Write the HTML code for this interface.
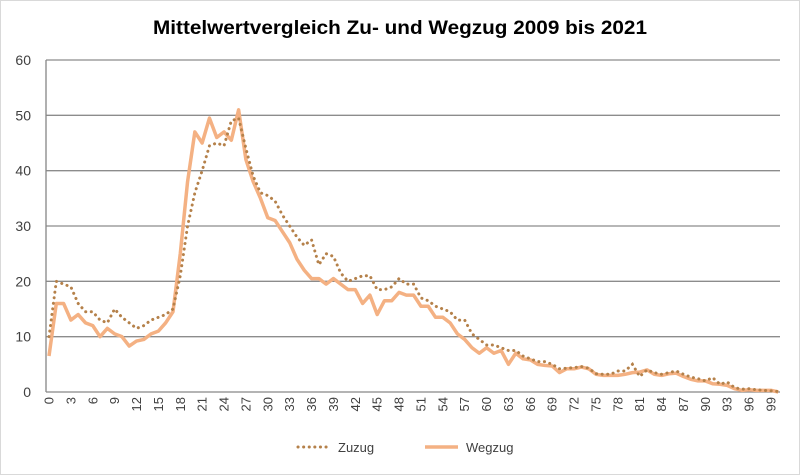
<!DOCTYPE html>
<html><head><meta charset="utf-8"><style>
body{margin:0;background:#fff;font-family:"Liberation Sans",sans-serif}
svg{display:block}
</style></head><body>
<svg width="800" height="475" viewBox="0 0 800 475">
<rect x="0.5" y="0.5" width="799" height="474" fill="#fff" stroke="#d9d9d9"/>
<text x="400" y="34" text-anchor="middle" font-size="19" font-weight="bold" fill="#000" textLength="494" lengthAdjust="spacingAndGlyphs">Mittelwertvergleich Zu- und Wegzug 2009 bis 2021</text>
<g id="grid"></g><g id="xl"></g><g id="yl"></g><g id="series"></g>
<g>
<line x1="298" y1="447" x2="330" y2="447" stroke="#b5814a" stroke-width="3" stroke-dasharray="0.1 5.5" stroke-linecap="round"/>
<text x="338" y="452" font-size="13" fill="#404040">Zuzug</text>
<line x1="425" y1="447" x2="458" y2="447" stroke="#f4b183" stroke-width="3.5"/>
<text x="466" y="452" font-size="13" fill="#404040">Wegzug</text>
</g>
</svg>
<script>
const yTicks=[0,10,20,30,40,50,60];
const wegzug=[6.5,16,16,13,14,12.5,12,10,11.5,10.5,10,8.3,9.2,9.5,10.5,11,12.5,14.5,25,38,47,45,49.5,46,47,45.5,51,42,38,35,31.5,31,29,27,24,22,20.5,20.5,19.5,20.5,19.5,18.5,18.5,16,17.5,14,16.5,16.5,18,17.5,17.5,15.5,15.5,13.5,13.5,12.5,10.5,9.5,8,7,8,7,7.5,5,7,6,5.8,5,4.8,4.7,3.5,4.2,4.2,4.5,4.2,3.2,3,3,3,3.2,3.5,3.6,4,3.2,3,3.3,3.4,2.8,2.3,2,2,1.5,1.4,1.2,0.6,0.3,0.4,0.3,0.3,0.3,0];
const zuzug=[10,20,19.5,19,16,14.5,14.5,13,12.5,15,13.5,12.5,11.5,12,13,13.5,14,15,21,30,36,40,44.5,45,44.5,49,49.5,44,39,36,35.5,34.5,32,30,28,26.5,27.5,23,25,24.5,21.5,20,20.5,21,21,18.5,18.5,19,20.5,19.5,19.5,17,16.5,15.5,15,14.5,13,13,10.5,9.5,8.5,8.5,8,7.5,7.5,6.5,6,5.5,5.5,5,4.2,4.3,4.4,4.6,4.3,3.3,3.2,3.2,3.8,3.8,5,2.8,4,3.5,3.2,3.5,3.8,3.2,2.7,2.4,2,2.6,1.4,1.8,0.8,0.5,0.6,0.4,0.3,0.2,0.1];
const ns="http://www.w3.org/2000/svg";
const X0=46,X1=780,Y0=392,Y1=60;
const xs=i=>49+i*(771-49)/99;
const ys=v=>Y0-(v/60)*(Y0-Y1);
function mk(t,a,p){const e=document.createElementNS(ns,t);for(const k in a)e.setAttribute(k,a[k]);p.appendChild(e);return e;}
const grid=document.getElementById('grid');
yTicks.forEach(v=>{
 const l=mk('line',{x1:X0,x2:X1,y1:ys(v),y2:ys(v),stroke:v===0?'#868686':'#8c8c8c','stroke-width':1.3},grid);
 
 
 const t=mk('text',{x:31,y:ys(v)+5,'text-anchor':'end','font-size':14,fill:'#404040'},document.getElementById('yl'));
 t.textContent=v;
 
 
});
const ax=mk('line',{x1:X0,x2:X0,y1:Y1,y2:Y0,stroke:'#868686','stroke-width':1.3},grid);


for(let i=0;i<=99;i+=3){
 const x=xs(i);
 const t=mk('text',{x:0,y:0,'text-anchor':'end','font-size':13,fill:'#404040',transform:`translate(${x+4.5},397) rotate(-90)`},document.getElementById('xl'));
 t.textContent=i;
 
 
}
const s=document.getElementById('series');
const wp=mk('polyline',{points:wegzug.map((v,i)=>xs(i)+','+ys(v)).join(' '),fill:'none',stroke:'#f4b183','stroke-width':3.5,'stroke-linejoin':'round'},s);


const zp=mk('polyline',{points:zuzug.map((v,i)=>xs(i)+','+ys(v)).join(' '),fill:'none',stroke:'#b5814a','stroke-width':3,'stroke-dasharray':'0.1 5.5','stroke-linecap':'round'},s);


</script>
</body></html>
